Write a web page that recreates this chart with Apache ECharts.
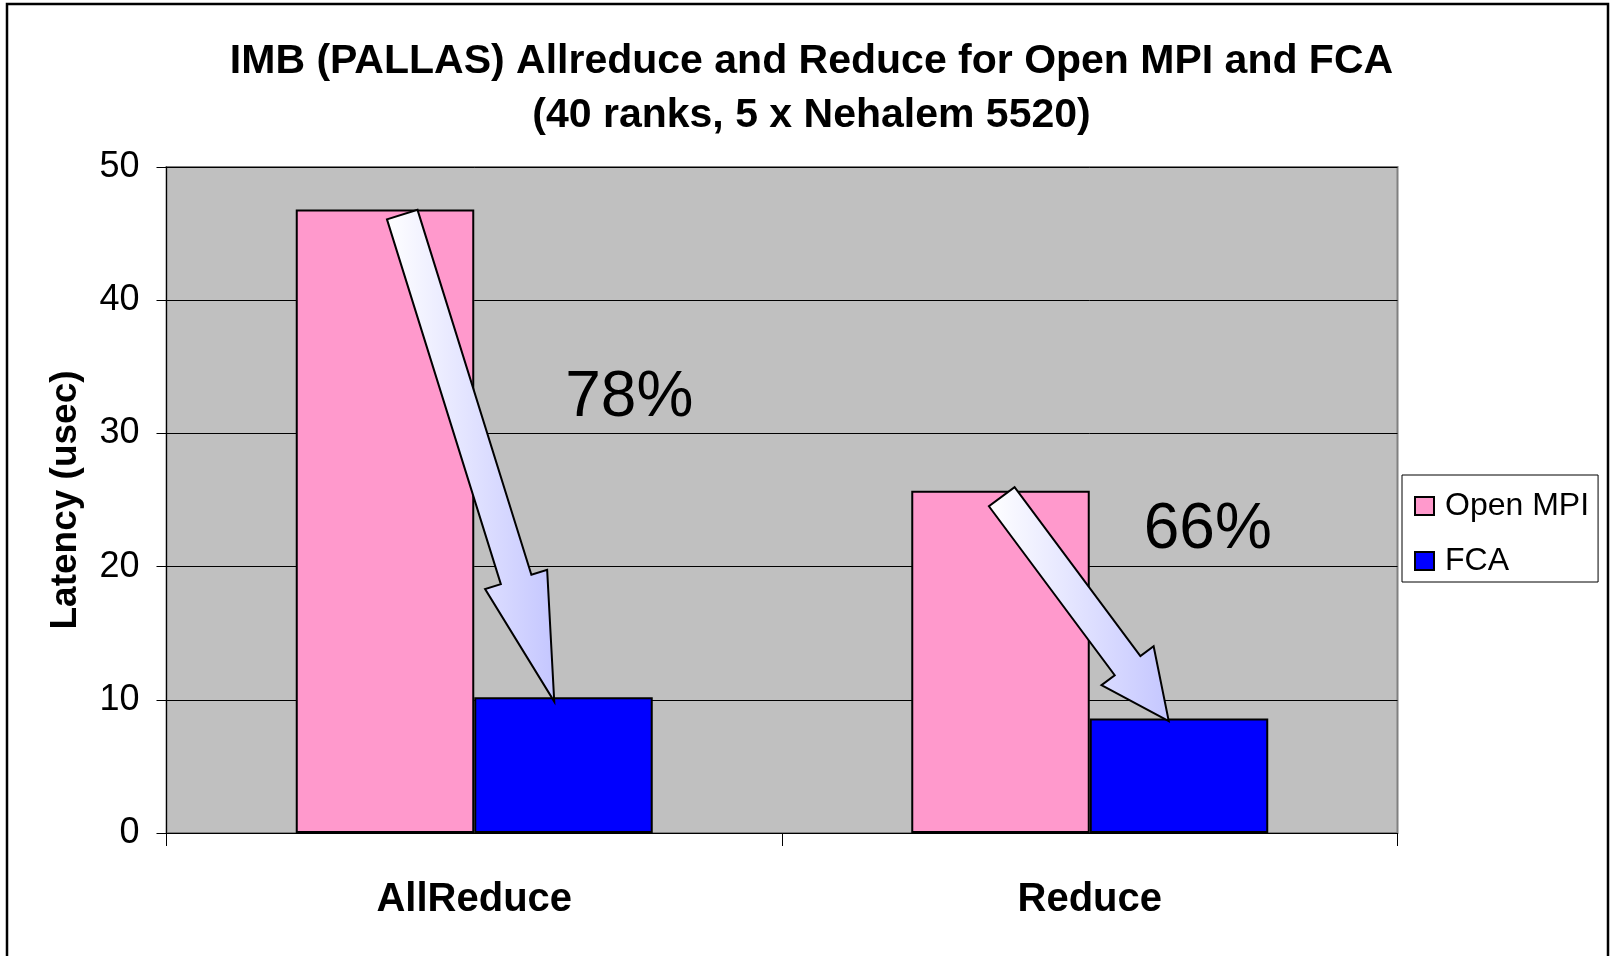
<!DOCTYPE html>
<html>
<head>
<meta charset="utf-8">
<script src="https://cdn.jsdelivr.net/npm/echarts@6/dist/echarts.min.js"></script>
<style>
html,body{margin:0;padding:0;background:#fff;}
#chart{width:1614px;height:956px;}
</style>
</head>
<body>
<div id="chart"></div>
<script>
// ---- data ----
const categories = ['AllReduce', 'Reduce'];
const seriesNames = ['Open MPI', 'FCA'];
const openMpi = [46.8, 25.7];
const fca = [10.2, 8.6];
const reductionLabels = ['78%', '66%'];
const titleLines = ['IMB (PALLAS) Allreduce and Reduce for Open MPI and FCA', '(40 ranks, 5 x Nehalem 5520)'];
const yMin = 0, yMax = 50, yStep = 10;

const FONT = '"Liberation Sans", Arial, Helvetica, sans-serif';

const chart = echarts.init(document.getElementById('chart'), null, {renderer: 'canvas'});

chart.setOption({
  animation: false,
  backgroundColor: '#ffffff',
  textStyle: {fontFamily: FONT, color: '#000'},
  grid: {
    left: 166.5, right: 216.5, top: 167, bottom: 123,
    show: true, backgroundColor: '#c0c0c0', borderColor: '#808080', borderWidth: 2,
    containLabel: false, outerBoundsMode: 'none'
  },
  legend: {
    orient: 'vertical',
    left: 1402, top: 475,
    padding: [15, 9, 5, 12],
    itemWidth: 19, itemHeight: 18, itemGap: 23,
    borderColor: '#000', borderWidth: 1, backgroundColor: '#fff',
    icon: 'rect',
    textStyle: {fontFamily: FONT, fontSize: 32, color: '#000', padding: [0, 0, 0, 6]},
    data: seriesNames
  },
  xAxis: {
    type: 'category',
    data: categories,
    axisLine: {show: true, lineStyle: {color: '#000', width: 1}},
    axisTick: {show: true, length: 13, lineStyle: {color: '#000', width: 1}},
    axisLabel: {margin: 47, fontFamily: FONT, fontSize: 40, fontWeight: 'bold', color: '#000'},
    splitLine: {show: false}
  },
  yAxis: {
    type: 'value',
    min: yMin, max: yMax, interval: yStep,
    name: 'Latency (usec)',
    nameLocation: 'middle', nameRotate: 90, nameGap: 82,
    nameTextStyle: {fontFamily: FONT, fontSize: 37, fontWeight: 'bold', color: '#000'},
    axisLine: {show: true, lineStyle: {color: '#000', width: 1}},
    axisTick: {show: true, inside: false, length: 10, lineStyle: {color: '#000', width: 1}},
    axisLabel: {margin: 27, fontFamily: FONT, fontSize: 36, color: '#000'},
    splitLine: {show: true, lineStyle: {color: '#000', width: 1}}
  },
  series: [
    {
      name: seriesNames[0], type: 'bar', data: openMpi,
      barGap: '0%', barCategoryGap: '42%',
      itemStyle: {color: '#ff99cc', borderColor: '#000', borderWidth: 2}
    },
    {
      name: seriesNames[1], type: 'bar', data: fca,
      barGap: '0%', barCategoryGap: '42%',
      itemStyle: {color: '#0000ff', borderColor: '#000', borderWidth: 2}
    }
  ]
});

// ---- annotations anchored to the axes ----
const arrowSpecs = [
  {cat: 0, tailDx: -72, tailDy: 5, tipDx: 80, tipDy: 4.5, headLen: 128},
  {cat: 1, tailDx: -88, tailDy: 6, tipDx: 79, tipDy: 2.6, headLen: 69}
];
const pctSpecs = [
  {cat: 0, dx: 155, value: 32.6},
  {cat: 1, dx: 118, value: 22.7}
];
const SHAFT = 32, HEAD = 65;

function px(catIdx, val) {
  return chart.convertToPixel({gridIndex: 0}, [catIdx, val]);
}

function arrowPoints(T, P, headLen) {
  const dx = P[0] - T[0], dy = P[1] - T[1];
  const len = Math.sqrt(dx * dx + dy * dy);
  const ux = dx / len, uy = dy / len;
  const nx = -uy, ny = ux;
  const B = [P[0] - ux * headLen, P[1] - uy * headLen];
  const s = SHAFT / 2, h = HEAD / 2;
  return [
    [T[0] + nx * s, T[1] + ny * s],
    [B[0] + nx * s, B[1] + ny * s],
    [B[0] + nx * h, B[1] + ny * h],
    [P[0], P[1]],
    [B[0] - nx * h, B[1] - ny * h],
    [B[0] - nx * s, B[1] - ny * s],
    [T[0] - nx * s, T[1] - ny * s]
  ];
}

const graphics = [];
// title (two centred lines)
titleLines.forEach(function (t, i) {
  graphics.push({
    type: 'text', silent: true, z: 50,
    x: 811.5, y: 62 + i * 54,
    style: {
      text: t, fontFamily: FONT, fontSize: 41, fontWeight: 'bold', fill: '#000',
      align: 'center', verticalAlign: 'middle'
    }
  });
});
arrowSpecs.forEach(function (a) {
  const top = px(a.cat, openMpi[a.cat]);
  const low = px(a.cat, fca[a.cat]);
  const T = [top[0] + a.tailDx, top[1] + a.tailDy];
  const P = [low[0] + a.tipDx, low[1] + a.tipDy];
  graphics.push({
    type: 'polygon',
    z: 50,
    silent: true,
    shape: {points: arrowPoints(T, P, a.headLen)},
    style: {
      fill: new echarts.graphic.LinearGradient(0, 0, 1, 0, [
        {offset: 0, color: '#ffffff'},
        {offset: 1, color: '#c4c6ff'}
      ]),
      stroke: '#000', lineWidth: 2, lineJoin: 'miter'
    }
  });
});
pctSpecs.forEach(function (p, i) {
  const c = px(p.cat, p.value);
  graphics.push({
    type: 'text',
    z: 50,
    silent: true,
    x: c[0] + p.dx, y: c[1],
    style: {
      text: reductionLabels[i],
      fontFamily: FONT, fontSize: 64, fill: '#000',
      align: 'center', verticalAlign: 'middle'
    }
  });
});
graphics.push({
  type: 'rect', z: 100, silent: true,
  shape: {x: 7, y: 4, width: 1601, height: 1000},
  style: {fill: null, stroke: '#000', lineWidth: 2.5}
});

chart.setOption({graphic: graphics});
</script>
</body>
</html>
